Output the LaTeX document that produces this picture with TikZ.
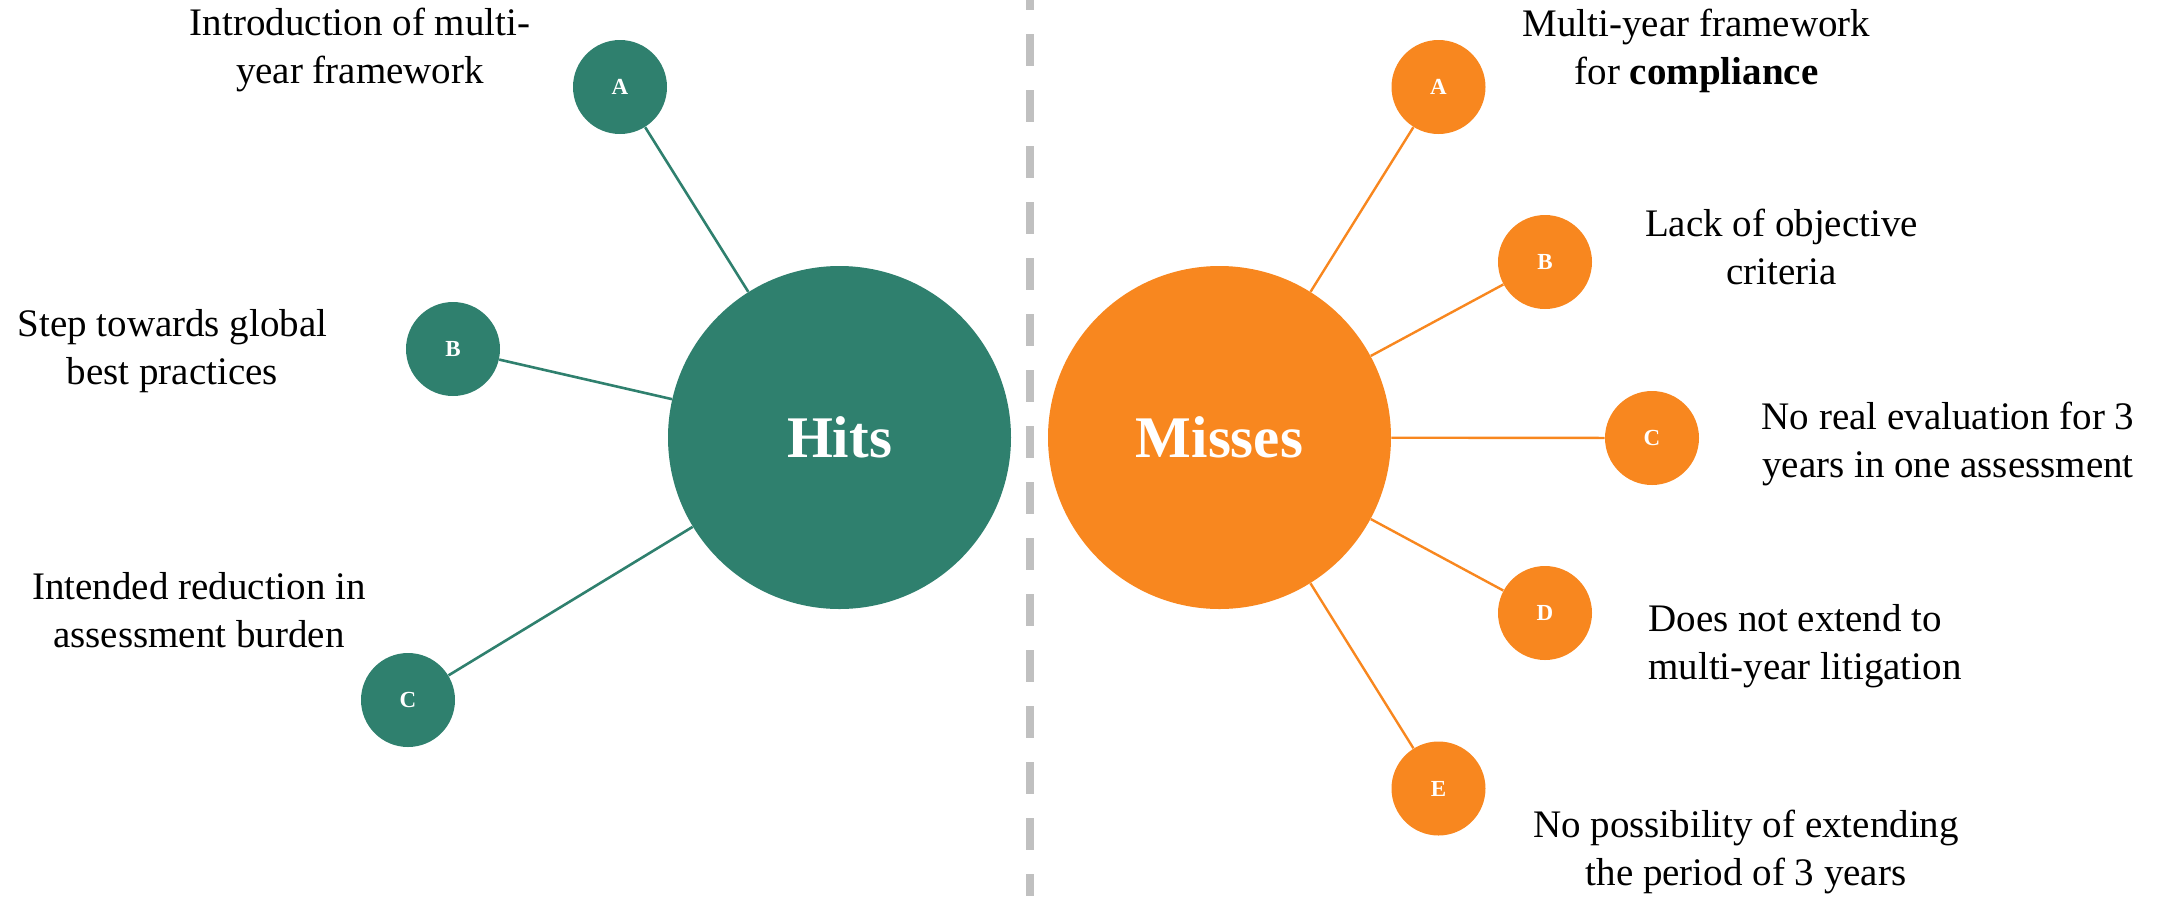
\documentclass[tikz,border=0pt]{standalone}
\usepackage{fontspec}
\setmainfont{Liberation Serif}
\definecolor{hitgreen}{HTML}{2F806E}
\definecolor{missorange}{HTML}{F8871F}
\definecolor{dashgray}{HTML}{C0C0C0}
\begin{document}
\begin{tikzpicture}[x=0.5pt,y=-0.5pt,
  big/.style={circle, minimum size=171.5pt, inner sep=0pt, text=white,
    font=\fontsize{29.5}{30}\selectfont\bfseries},
  small/.style={circle, minimum size=47pt, inner sep=0pt, text=white,
    font=\fontsize{11.5}{12}\selectfont\bfseries},
  lbl/.style={font=\fontsize{19.5}{23.75}\selectfont, align=center, inner sep=0pt, anchor=base},
  lblleft/.style={font=\fontsize{19.5}{23.75}\selectfont, align=left, inner sep=0pt, anchor=base west},
  greenlink/.style={draw=hitgreen, line width=1.3pt},
  orangelink/.style={draw=missorange, line width=1.2pt},
  divider/.style={draw=dashgray, line width=4pt, dash pattern=on 16pt off 12pt, dash phase=11pt}
]
\useasboundingbox (0,0) rectangle (2165,896);

% divider
\coordinate (dtop) at (1030,0);
\coordinate (dbot) at (1030,896);
\draw[divider] (dtop) -- (dbot);

% main circles
\node[big, fill=hitgreen] (hits) at (839.5,437.5) {Hits};
\node[big, fill=missorange] (misses) at (1219.5,437.5) {Misses};

% hits small circles
\node[small, fill=hitgreen] (hA) at (620,87) {A};
\node[small, fill=hitgreen] (hB) at (453,349) {B};
\node[small, fill=hitgreen] (hC) at (408,700) {C};

% misses small circles
\node[small, fill=missorange] (mA) at (1438.5,87) {A};
\node[small, fill=missorange] (mB) at (1545,262) {B};
\node[small, fill=missorange] (mC) at (1652,438) {C};
\node[small, fill=missorange] (mD) at (1545,613) {D};
\node[small, fill=missorange] (mE) at (1438.5,788.5) {E};

% connectors
\draw[greenlink] (hits) -- (hA);
\draw[greenlink] (hits) -- (hB);
\draw[greenlink] (hits) -- (hC);
\draw[orangelink] (misses) -- (mA);
\draw[orangelink] (misses) -- (mB);
\draw[orangelink] (misses) -- (mC);
\draw[orangelink] (misses) -- (mD);
\draw[orangelink] (misses) -- (mE);

% labels (anchor = baseline of the last line)
\node[lbl] (tA) at (360,83) {Introduction of multi-\\year framework};
\node[lbl] (tB) at (172.5,384) {Step towards global\\best practices};
\node[lbl] (tC) at (199,647) {Intended reduction in\\assessment burden};
\node[lbl] (uA) at (1696.5,84) {Multi-year framework\\for \textbf{compliance}};
\node[lbl] (uB) at (1781.5,284) {Lack of objective\\criteria};
\node[lbl] (uC) at (1948,477) {No real evaluation for 3\\years in one assessment};
\node[lblleft] (uD) at (1648,679) {Does not extend to\\multi-year litigation};
\node[lbl] (uE) at (1746,885) {No possibility of extending\\the period of 3 years};
\end{tikzpicture}
\end{document}
